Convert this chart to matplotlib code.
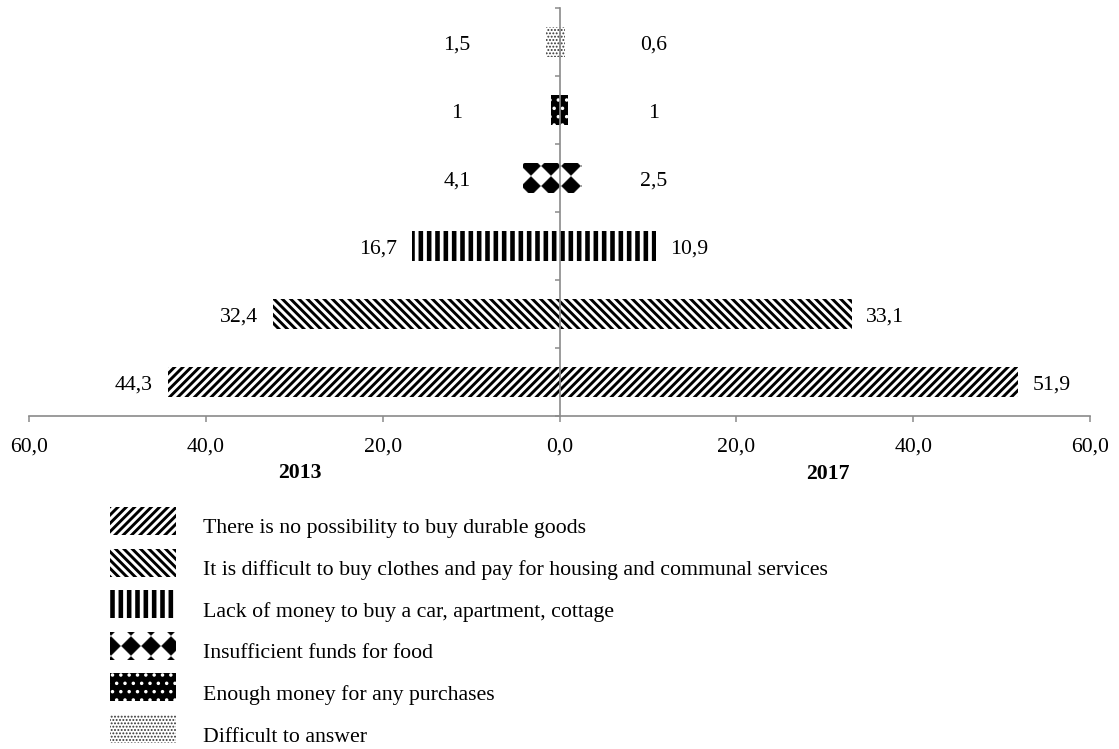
import matplotlib
matplotlib.use("Agg")
import numpy as np
import matplotlib.pyplot as plt
from matplotlib import hatch as mhatch
from matplotlib.path import Path
from matplotlib.patches import Rectangle
from matplotlib.transforms import Affine2D

# ---- data -----------------------------------------------------------------
categories = [
    "There is no possibility to buy durable goods",
    "It is difficult to buy clothes and pay for housing and communal services",
    "Lack of money to buy a car, apartment, cottage",
    "Insufficient funds for food",
    "Enough money for any purchases",
    "Difficult to answer",
]
values_2013 = [44.3, 32.4, 16.7, 4.1, 1.0, 1.5]
values_2017 = [51.9, 33.1, 10.9, 2.5, 1.0, 0.6]
years = ["2013", "2017"]
tick_values = [-60, -40, -20, 0, 20, 40, 60]
tick_labels = ["60,0", "40,0", "20,0", "0,0", "20,0", "40,0", "60,0"]

# ---- styles ---------------------------------------------------------------
# (hatch, facecolor, hatch colour, hatch line width)
fills = [
    ("////", "white", "black", 2.1),
    ("\\\\\\\\", "white", "black", 2.1),
    ("||", "white", "black", 3.3),
    ("*", "white", "black", 0.4),
    ("..", "black", "white", 1.3),
    (".....", "white", "#333333", 0.9),
]
AXIS_GREY = "#8a8a8a"
FONT_SIZE = 15.7
W, H = 1119, 749


class DiamondLattice(mhatch.HatchPatternBase):
    """Filled diamonds on a square grid, used for the '*' hatch."""
    x_shift = 0.11
    y_shift = -0.06

    def __init__(self, hatch, density):
        self.num_rows = hatch.count('*') * 5
        self.num_vertices = (self.num_rows + 2) ** 2 * 5 if self.num_rows else 0

    def set_vertices_and_codes(self, vertices, codes):
        n = self.num_rows
        step = 1.0 / n
        r = 0.47 * step
        shape = np.array([[0, -r], [r, 0], [0, r], [-r, 0], [0, -r]])
        shape_codes = [Path.MOVETO, Path.LINETO, Path.LINETO,
                       Path.LINETO, Path.CLOSEPOLY]
        k = 0
        for i in range(-1, n + 1):
            for j in range(-1, n + 1):
                cx = i * step + self.x_shift
                cy = j * step + self.y_shift
                vertices[k:k + 5] = shape + [cx, cy]
                codes[k:k + 5] = shape_codes
                k += 5


mhatch._hatch_types[:] = [DiamondLattice if t is mhatch.Stars else t
                          for t in mhatch._hatch_types]

plt.rcParams["font.family"] = ["Liberation Serif", "DejaVu Serif"]
plt.rcParams["font.size"] = FONT_SIZE


def style_patch(p, style):
    hatch, face, hcolor, hlw = style
    p.set_facecolor(face)
    p.set_edgecolor(hcolor)
    p.set_linewidth(0)
    p.set_hatch(hatch)
    if hasattr(p, "set_hatch_linewidth"):
        p.set_hatch_linewidth(hlw)


def fmt(v):
    return f"{v:g}".replace(".", ",")


fig = plt.figure(figsize=(W / 100, H / 100), dpi=100)
ax = fig.add_axes([29 / W, (H - 416) / H, (1090 - 29) / W, (416 - 8) / H])

y = np.arange(len(categories))
bar_h = 0.43
for i, style in enumerate(fills):
    with plt.rc_context({"hatch.linewidth": style[3]}):
        left = ax.barh(y[i], -values_2013[i], height=bar_h)
        right = ax.barh(y[i], values_2017[i], height=bar_h)
    for p in list(left) + list(right):
        style_patch(p, style)

ax.set_xlim(-60, 60)
ax.set_ylim(-0.5, len(categories) - 0.5)

# value labels beside each bar
for i in range(len(categories)):
    v13, v17 = values_2013[i], values_2017[i]
    if v13 >= 8:
        ax.annotate(fmt(v13), (-v13, y[i]), xytext=(-15 * 0.72, -5.4),
                    textcoords="offset points", ha="right", va="baseline")
    else:
        ax.annotate(fmt(v13), (-11.6, y[i]), xytext=(0, -5.4),
                    textcoords="offset points", ha="center", va="baseline")
    if v17 >= 8:
        ax.annotate(fmt(v17), (v17, y[i]), xytext=(14 * 0.72, -5.4),
                    textcoords="offset points", ha="left", va="baseline")
    else:
        ax.annotate(fmt(v17), (10.6, y[i]), xytext=(0, -5.4),
                    textcoords="offset points", ha="center", va="baseline")

for side in ("top", "right"):
    ax.spines[side].set_visible(False)
ax.spines["left"].set_position(("data", 0))
for side in ("left", "bottom"):
    ax.spines[side].set_color(AXIS_GREY)
    ax.spines[side].set_linewidth(1.2)

ax.set_yticks(np.arange(-0.5, len(categories), 1.0))
ax.set_yticklabels([])
ax.tick_params(axis="y", direction="out", length=3.6, width=1.1,
               color=AXIS_GREY)
ax.set_xticks(tick_values)
ax.set_xticklabels(tick_labels)
ax.tick_params(axis="x", direction="out", length=4.3, width=1.1,
               color=AXIS_GREY, pad=11.5, labelsize=FONT_SIZE)
ax.set_facecolor("none")

# pixel-based transform for the year captions and the legend
pix = Affine2D().scale(1, -1).translate(0, H)

fig.text(300, 478, years[0], transform=pix, ha="center", va="baseline",
         fontweight="bold", fontsize=FONT_SIZE)
fig.text(828, 479, years[1], transform=pix, ha="center", va="baseline",
         fontweight="bold", fontsize=FONT_SIZE)

# legend
for i, (name, style) in enumerate(zip(categories, fills)):
    cy = 521 + 41.6 * i
    with plt.rc_context({"hatch.linewidth": style[3]}):
        r = Rectangle((110, cy - 14), 66, 28, transform=pix)
    style_patch(r, style)
    fig.add_artist(r)
    fig.text(203, cy + 7 + 5.5, name, transform=pix, ha="left",
             va="baseline", fontsize=FONT_SIZE)

fig.savefig("out.png", dpi=100)
